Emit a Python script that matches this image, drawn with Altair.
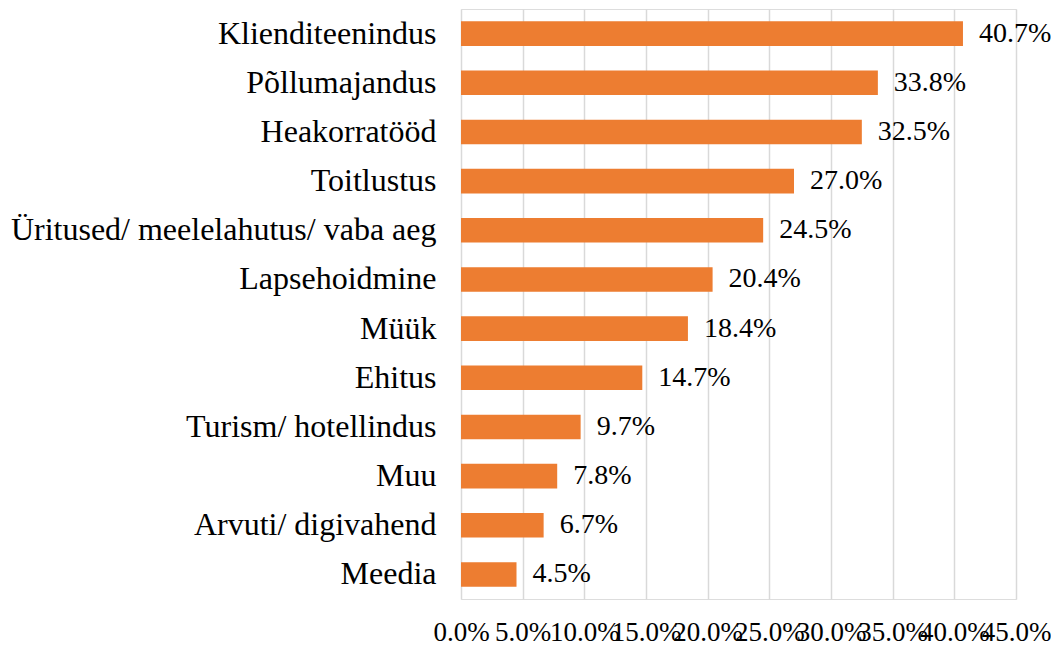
import altair as alt
import pandas as pd

categories = ["Klienditeenindus", "Põllumajandus", "Heakorratööd", "Toitlustus",
              "Üritused/ meelelahutus/ vaba aeg", "Lapsehoidmine", "Müük", "Ehitus",
              "Turism/ hotellindus", "Muu", "Arvuti/ digivahend", "Meedia"]
values = [0.407, 0.338, 0.325, 0.270, 0.245, 0.204, 0.184, 0.147, 0.097, 0.078, 0.067, 0.045]
x_ticks = [0, 0.05, 0.10, 0.15, 0.20, 0.25, 0.30, 0.35, 0.40, 0.45]

df = pd.DataFrame({"cat": categories, "val": values})

FONT = "Times New Roman"

y_enc = alt.Y("cat:N", sort=categories, title=None,
              scale=alt.Scale(paddingInner=0.5, paddingOuter=0.25),
              axis=alt.Axis(labelFont=FONT, labelFontSize=32, labelColor="black",
                            labelPadding=25, ticks=False, domain=False, labelLimit=0))
x_enc = alt.X("val:Q", title=None,
              scale=alt.Scale(domain=[0, 0.45], nice=False),
              axis=alt.Axis(values=x_ticks, format=".1%", labelFont=FONT, labelFontSize=27,
                            labelColor="black", labelPadding=20, ticks=False, domain=False,
                            grid=True, gridColor="#d9d9d9", gridWidth=1.5,
                            labelOverlap=False, labelFlush=False))

bars = alt.Chart(df).mark_bar(color="#ED7D31").encode(y=y_enc, x=x_enc)
text = alt.Chart(df).mark_text(align="left", baseline="middle", dx=16, font=FONT,
                               fontSize=28, color="black").encode(
    y=alt.Y("cat:N", sort=categories),
    x=alt.X("val:Q"),
    text=alt.Text("val:Q", format=".1%"))

chart = (bars + text).properties(
    width=555, height=590,
    autosize=alt.AutoSizeParams(type="none"),
    padding={"left": 453, "top": 1, "right": 35, "bottom": 46},
).configure_view(stroke=None).configure(background="white")

chart.save("out.html", embed_options={"renderer": "svg", "actions": False})
